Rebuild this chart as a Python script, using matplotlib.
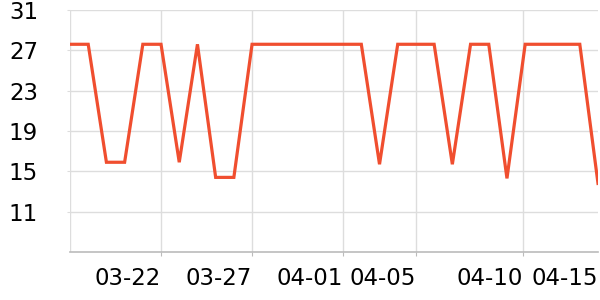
import matplotlib
matplotlib.use("Agg")
import matplotlib.pyplot as plt
import numpy as np

# one value per day, 03-17 .. 04-15
days = ["03-17", "03-18", "03-19", "03-20", "03-21", "03-22", "03-23", "03-24",
        "03-25", "03-26", "03-27", "03-28", "03-29", "03-30", "03-31", "04-01",
        "04-02", "04-03", "04-04", "04-05", "04-06", "04-07", "04-08", "04-09",
        "04-10", "04-11", "04-12", "04-13", "04-14", "04-15"]
values = [27.6, 27.6, 15.9, 15.9, 27.6, 27.6, 15.9, 27.6, 14.4, 14.4,
          27.6, 27.6, 27.6, 27.6, 27.6, 27.6, 27.6, 15.7, 27.6, 27.6,
          27.6, 15.7, 27.6, 27.6, 14.3, 27.6, 27.6, 27.6, 27.6, 13.8]
tick_pos = [5, 10, 15, 19, 24.9, 29]
tick_labels = ["03-22", "03-27", "04-01", "04-05", "04-10", "04-15"]
y_ticks = [11, 15, 19, 23, 27, 31]

fig = plt.figure(figsize=(6, 3), dpi=100)
ax = fig.add_axes([70 / 600, 1 - 252 / 300, 528 / 600, 242 / 300])

x = np.arange(len(days))
ax.plot(x, values, color="#f04e2f", lw=2.3, solid_joinstyle="miter", zorder=3)

ax.set_xlim(0, len(days) - 1)
ax.set_ylim(7, 31)
ax.set_yticks(y_ticks)
ax.set_yticklabels([str(v) for v in y_ticks])
ax.set_xticks(tick_pos)
ax.set_xticklabels(tick_labels, ha="right")

ax.grid(True, color="#dddddd", lw=1)
ax.get_xgridlines()[-1].set_visible(False)
ax.xaxis.get_major_ticks()[-1].tick1line.set_visible(False)
ax.axvline(0, color="#dddddd", lw=1, zorder=1)
for s in ["top", "right", "left"]:
    ax.spines[s].set_visible(False)
ax.spines["bottom"].set_color("#bbbbbb")
ax.spines["bottom"].set_linewidth(1.2)

ax.tick_params(axis="y", length=2, color="#dddddd", pad=21, labelsize=16.5)
ax.tick_params(axis="x", length=3, color="#bbbbbb", pad=8, labelsize=16.5)

plt.savefig("out.png", dpi=100)
